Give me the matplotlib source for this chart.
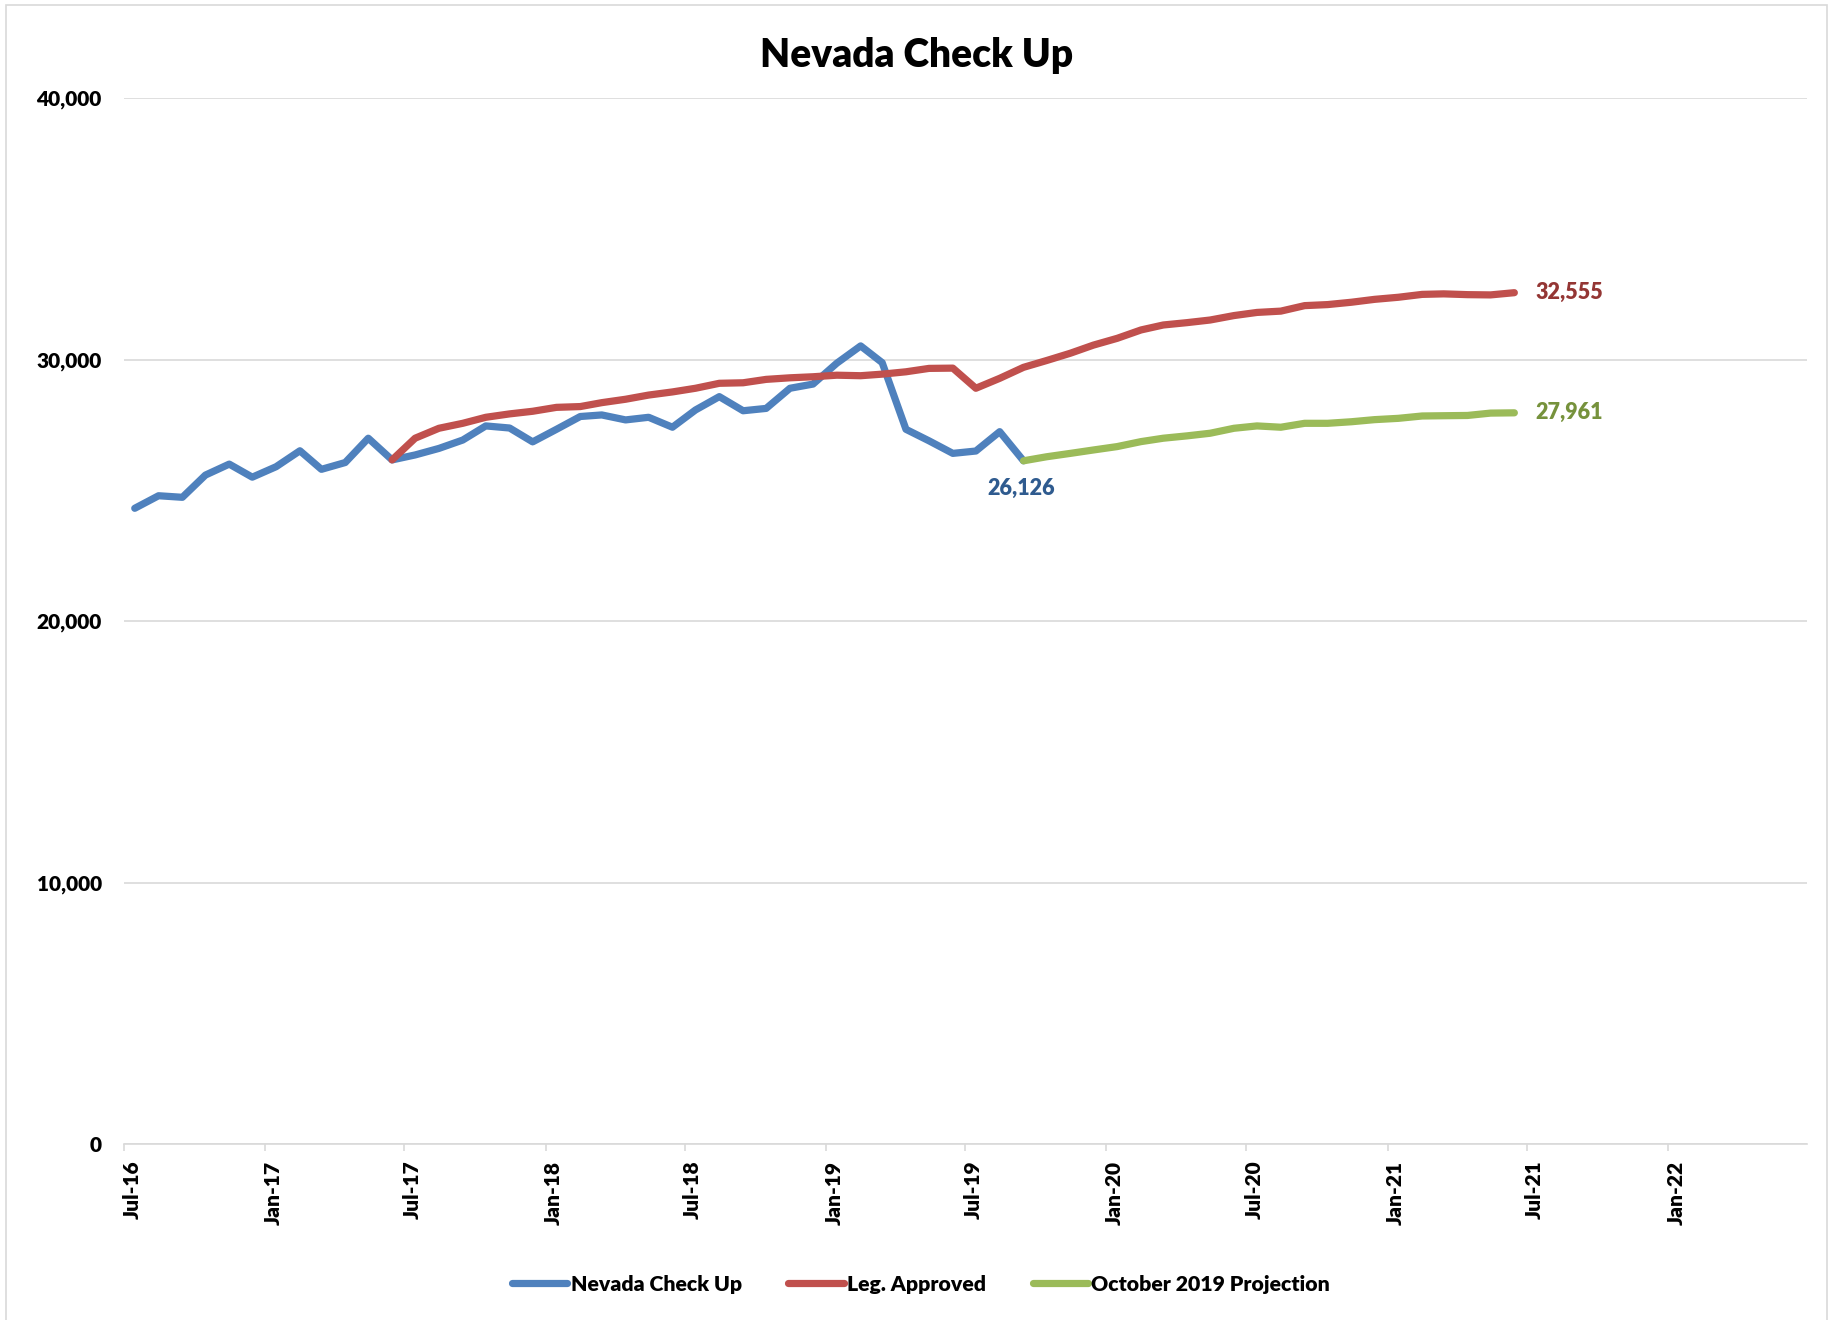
import numpy as np
import pandas as pd
import matplotlib
matplotlib.use('Agg')
import matplotlib.pyplot as plt
import matplotlib.dates as mdates
import matplotlib.transforms as mtransforms
from matplotlib.patches import Rectangle
from matplotlib.ticker import FuncFormatter

plt.rcParams['font.family'] = ['Lato', 'DejaVu Sans']
plt.rcParams['font.weight'] = 'heavy'

# monthly enrollment, Jul-16 .. Sep-19
checkup_start = '2016-07-01'
checkup = [24310, 24790, 24730, 25580, 26000, 25500, 25900, 26510, 25800, 26060,
           26990, 26160, 26350, 26600, 26920, 27460, 27380, 26850, 27330, 27820,
           27880, 27690, 27790, 27410, 28070, 28580, 28040, 28130, 28900, 29060,
           29860, 30520, 29880, 27330, 26890, 26410, 26500, 27240, 26126]

# Leg. approved, Jun-17 .. Jun-21
approved_start = '2017-06-01'
approved = [26160, 26990, 27370, 27560, 27790, 27920, 28020, 28170, 28200, 28350,
            28480, 28640, 28760, 28900, 29090, 29110, 29240, 29300, 29340, 29400,
            29380, 29440, 29530, 29660, 29670, 28900, 29280, 29700, 29960, 30240,
            30550, 30810, 31130, 31320, 31410, 31510, 31680, 31800, 31850, 32060,
            32100, 32190, 32300, 32380, 32490, 32510, 32480, 32470, 32555]

# October 2019 projection, Sep-19 .. Jun-21
projection_start = '2019-09-01'
projection = [26126, 26280, 26410, 26540, 26670, 26860, 26990, 27080, 27180, 27370,
              27460, 27410, 27560, 27560, 27620, 27700, 27750, 27840, 27850, 27860,
              27950, 27961]

series_names = ['Nevada Check Up', 'Leg. Approved', 'October 2019 Projection']
colors = ['#4F81BD', '#C0504D', '#9BBB59']
label_colors = ['#2F5B8F', '#943634', '#76923C']
bold = 'heavy'


def month_dates(start, n):
    return pd.date_range(start, periods=n, freq='MS') + pd.Timedelta(days=14)


d_checkup = month_dates(checkup_start, len(checkup))
d_approved = month_dates(approved_start, len(approved))
d_projection = month_dates(projection_start, len(projection))

W, H = 1834, 1320
fig = plt.figure(figsize=(W / 100, H / 100), dpi=100)
fig.patches.append(Rectangle((6 / W, -0.01), (1827 - 6) / W, 1.01 - 5 / H,
                             transform=fig.transFigure, fill=False,
                             edgecolor='#d9d9d9', linewidth=1.2))

ax = fig.add_axes([124 / W, 1 - 1144 / H, (1807 - 124) / W, (1144 - 98) / H])

lw = 5.2
ax.plot(d_checkup, checkup, color=colors[0], lw=lw, solid_capstyle='round',
        solid_joinstyle='round', label=series_names[0], zorder=3)
ax.plot(d_approved, approved, color=colors[1], lw=lw, solid_capstyle='round',
        solid_joinstyle='round', label=series_names[1], zorder=4)
ax.plot(d_projection, projection, color=colors[2], lw=lw, solid_capstyle='round',
        solid_joinstyle='round', label=series_names[2], zorder=5)

# end labels
lab_size = 15.5
ax.annotate(f'{checkup[-1]:,}', (d_checkup[-1], checkup[-1]), xytext=(-2, -28),
            textcoords='offset pixels', ha='center', va='center',
            fontsize=lab_size, fontweight=bold, color=label_colors[0])
ax.annotate(f'{approved[-1]:,}', (d_approved[-1], approved[-1]), xytext=(21, 0),
            textcoords='offset pixels', ha='left', va='center',
            fontsize=lab_size, fontweight=bold, color=label_colors[1])
ax.annotate(f'{projection[-1]:,}', (d_projection[-1], projection[-1]), xytext=(21, 0),
            textcoords='offset pixels', ha='left', va='center',
            fontsize=lab_size, fontweight=bold, color=label_colors[2])

ax.set_ylim(0, 40000)
ax.set_yticks(range(0, 40001, 10000))
ax.yaxis.set_major_formatter(FuncFormatter(lambda v, p: f'{int(v):,}'))
ax.set_xlim(pd.Timestamp('2016-07-01'), pd.Timestamp('2022-07-01'))
ax.set_xticks(pd.date_range('2016-07-01', '2022-01-01', freq='6MS'))
ax.xaxis.set_major_formatter(mdates.DateFormatter('%b-%y'))

ax.grid(axis='y', color='#d9d9d9', lw=1.2)
ax.set_axisbelow(True)
for s in ['left', 'right', 'top']:
    ax.spines[s].set_visible(False)
ax.spines['bottom'].set_color('#d9d9d9')
ax.spines['bottom'].set_linewidth(1.2)
ax.tick_params(axis='y', length=0, pad=16, labelsize=15)
ax.tick_params(axis='x', length=5, color='#d9d9d9', width=1.2, pad=7,
               labelsize=15, labelrotation=90)
offset = mtransforms.ScaledTranslation(8 / 100, 0, fig.dpi_scale_trans)
for lab in ax.get_xticklabels():
    lab.set_fontweight(bold)
    lab.set_transform(lab.get_transform() + offset)
for lab in ax.get_yticklabels():
    lab.set_fontweight(bold)

fig.text(0.5, 1 - 55 / H, 'Nevada Check Up', ha='center', va='center',
         fontsize=28, fontweight=bold)

fig.legend(loc='center', bbox_to_anchor=(921 / W, 1 - 1284 / H), ncol=3,
           frameon=False, prop={'size': 15.3, 'weight': bold},
           handlelength=2.6, handletextpad=0.15, columnspacing=2.2)

fig.savefig('out.png', dpi=100)
